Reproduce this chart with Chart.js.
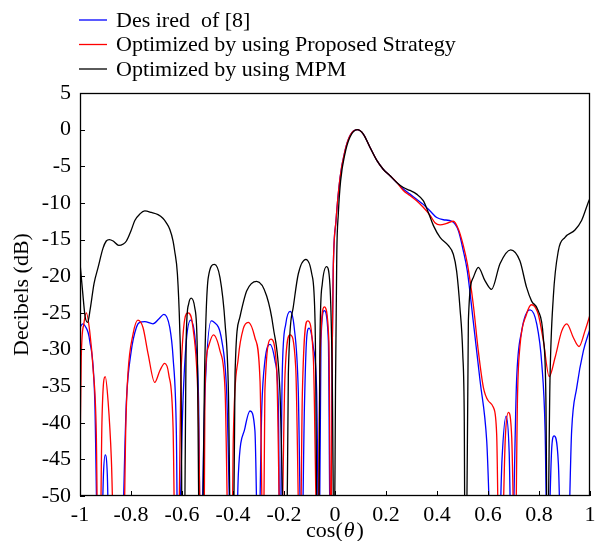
<!DOCTYPE html>
<html lang="en">
<head>
    <meta charset="UTF-8">
    <title>Array pattern</title>
    <script src="https://cdn.jsdelivr.net/npm/chart.js"></script>
    <style>
        body { margin: 0; background: #fff; }
        #patternChart { display: block; }
    </style>
</head>
<body>
    <canvas id="patternChart" width="595" height="541"></canvas>

    <script>
    // legend labels
    const seriesNames = ['Des ired  of [8]', 'Optimized by using Proposed Strategy', 'Optimized by using MPM'];

    // Desired of [8] (blue)
    const desX = [-1, -0.99, -0.98, -0.962, -0.942, -0.929, -0.918, -0.908, -0.901, -0.893, -0.884, -0.84, -0.818, -0.799, -0.779, -0.766, -0.746, -0.714, -0.69, -0.671, -0.648, -0.635, -0.622, -0.616, -0.596, -0.583, -0.566, -0.548, -0.535, -0.527, -0.511, -0.485, -0.477, -0.444, -0.425, -0.405, -0.39, -0.379, -0.353, -0.333, -0.314, -0.301, -0.287, -0.275, -0.255, -0.235, -0.222, -0.216, -0.207, -0.193, -0.176, -0.16, -0.144, -0.131, -0.12, -0.111, -0.102, -0.085, -0.072, -0.062, -0.055, -0.042, -0.026, -0.018, -0.011, -0.007, 0.004, 0.02, 0.039, 0.059, 0.087, 0.111, 0.137, 0.164, 0.189, 0.216, 0.242, 0.268, 0.294, 0.32, 0.346, 0.373, 0.399, 0.425, 0.458, 0.484, 0.503, 0.519, 0.542, 0.569, 0.595, 0.617, 0.64, 0.655, 0.671, 0.683, 0.693, 0.712, 0.732, 0.765, 0.791, 0.811, 0.824, 0.833, 0.85, 0.859, 0.876, 0.889, 0.911, 0.928, 0.948, 0.974, 1];
    const desDb = [-27.0, -26.5, -26.8, -28.8, -37.0, -60, -60, -47, -44.4, -47, -60, -60, -37.0, -30.2, -27.0, -26.3, -26.2, -26.5, -25.8, -25.2, -27.0, -31.1, -41.6, -60, -37, -28.8, -26.0, -28.8, -37, -60, -37, -26.1, -26.2, -28.8, -35.7, -60, -60, -47, -40.7, -38.4, -41.1, -60, -37.9, -31.6, -29.3, -31.6, -37.9, -60, -33.4, -26.5, -24.8, -27.0, -35.7, -60, -38, -28.4, -27.1, -29.7, -35.7, -60, -28.8, -24.7, -28.8, -60, -30.6, -19.3, -12.4, -6.5, -2.9, -0.8, 0, -0.6, -2.4, -4.2, -5.4, -6.3, -7.2, -8.1, -8.8, -9.5, -10.2, -11.1, -12.0, -12.3, -12.5, -13.8, -16.5, -19.3, -26.1, -34.3, -42.5, -60, -60, -45, -39.1, -44, -60, -34.3, -27.5, -24.6, -26.5, -32.0, -41.1, -60, -43.4, -41.8, -45.6, -60, -60, -41.1, -35.2, -30.2, -27.2];

    // Proposed strategy (red)
    const propX = [-1, -0.995, -0.985, -0.975, -0.962, -0.949, -0.936, -0.929, -0.922, -0.914, -0.901, -0.89, -0.877, -0.864, -0.831, -0.82, -0.812, -0.792, -0.773, -0.753, -0.733, -0.707, -0.687, -0.668, -0.652, -0.635, -0.626, -0.616, -0.603, -0.576, -0.557, -0.537, -0.524, -0.514, -0.51, -0.497, -0.477, -0.451, -0.431, -0.416, -0.405, -0.399, -0.379, -0.36, -0.34, -0.314, -0.294, -0.281, -0.275, -0.251, -0.229, -0.212, -0.196, -0.176, -0.154, -0.137, -0.128, -0.107, -0.085, -0.068, -0.059, -0.042, -0.024, -0.016, -0.011, -0.007, 0.004, 0.02, 0.039, 0.059, 0.087, 0.111, 0.137, 0.164, 0.189, 0.216, 0.242, 0.268, 0.294, 0.32, 0.346, 0.373, 0.392, 0.412, 0.438, 0.464, 0.484, 0.503, 0.519, 0.542, 0.562, 0.582, 0.601, 0.621, 0.634, 0.644, 0.652, 0.668, 0.68, 0.693, 0.706, 0.716, 0.725, 0.751, 0.771, 0.797, 0.817, 0.84, 0.863, 0.889, 0.909, 0.935, 0.957, 0.98, 1];
    const propDb = [-45, -31, -26.5, -25, -27.5, -32.5, -41.6, -60, -60, -40, -33.7, -37, -45, -60, -60, -40, -33.3, -27.9, -26.0, -27.0, -30.6, -34.5, -32.9, -31.9, -33.4, -40.7, -60, -60, -32.5, -25.0, -27.0, -37.0, -60, -60, -35.7, -29.7, -28.0, -30.2, -35.7, -60, -60, -42.5, -31.1, -27.2, -26.3, -28.4, -34.3, -60, -35.7, -28.6, -32.5, -60, -33.4, -28.0, -32.5, -60, -36, -26.1, -31.1, -60, -32, -24.2, -28.8, -60, -30.6, -19.3, -12.4, -6.5, -2.9, -0.8, 0, -0.6, -2.4, -4.2, -5.4, -6.3, -7.2, -8.3, -9.0, -9.7, -10.6, -11.7, -12.7, -13.0, -12.8, -12.5, -13.6, -15.8, -18.3, -23.8, -30.2, -35.2, -37.0, -37.9, -41.6, -60, -60, -42, -38.6, -42, -60, -36, -29.7, -25.2, -23.9, -25.2, -28.8, -33.7, -31.1, -27.5, -26.5, -28.4, -29.6, -27.5, -25.3];

    // MPM (black)
    const mpmX = [-1, -0.99, -0.98, -0.97, -0.96, -0.945, -0.929, -0.91, -0.897, -0.885, -0.87, -0.848, -0.83, -0.818, -0.8, -0.785, -0.765, -0.746, -0.72, -0.694, -0.675, -0.662, -0.648, -0.635, -0.629, -0.618, -0.609, -0.603, -0.599, -0.592, -0.583, -0.574, -0.564, -0.55, -0.54, -0.531, -0.522, -0.511, -0.497, -0.473, -0.451, -0.431, -0.418, -0.408, -0.399, -0.392, -0.373, -0.346, -0.307, -0.268, -0.242, -0.216, -0.196, -0.19, -0.183, -0.164, -0.144, -0.114, -0.091, -0.078, -0.068, -0.064, -0.059, -0.05, -0.033, -0.02, -0.011, -0.003, 0.002, 0.007, 0.013, 0.022, 0.039, 0.059, 0.087, 0.111, 0.137, 0.164, 0.189, 0.216, 0.242, 0.268, 0.294, 0.32, 0.346, 0.366, 0.386, 0.412, 0.444, 0.464, 0.477, 0.49, 0.501, 0.507, 0.51, 0.515, 0.523, 0.542, 0.562, 0.588, 0.614, 0.647, 0.689, 0.725, 0.751, 0.771, 0.797, 0.817, 0.827, 0.833, 0.843, 0.856, 0.876, 0.902, 0.941, 0.967, 0.997, 1];
    const mpmDb = [-18.2, -22.0, -25.5, -26.3, -24.5, -21.0, -18.8, -16.2, -15.2, -15.0, -15.2, -15.8, -15.6, -15.2, -13.8, -12.4, -11.5, -11.1, -11.3, -11.6, -12.1, -12.7, -13.6, -15.2, -16.5, -19.7, -27.0, -37.0, -60, -60, -27.9, -23.8, -23.0, -24.3, -30.2, -60, -60, -32.5, -20.2, -18.4, -20.2, -26.5, -35.7, -60, -60, -33.4, -25.6, -22.0, -20.7, -22.7, -27.0, -35.7, -60, -60, -33.4, -24.3, -19.7, -17.7, -19.7, -26.5, -60, -60, -28.8, -21.1, -18.7, -21.1, -33.3, -60, -35, -17.0, -11.5, -7.0, -3.3, -1.0, 0, -0.6, -2.4, -4.2, -5.4, -6.3, -7.2, -7.9, -8.3, -8.8, -9.7, -11.3, -13.1, -14.7, -15.8, -17.0, -19.3, -24.3, -30.6, -39.8, -60, -60, -26.1, -20.2, -18.8, -20.6, -21.8, -18.3, -16.4, -17.9, -21.5, -23.4, -24.7, -28.4, -36.6, -60, -34.3, -22.9, -16.5, -14.7, -13.7, -12.4, -9.6, -9.4];

    const serif = "'Liberation Serif', 'Times New Roman', serif";

    function toPoints(xs, ys) {
        return xs.map((v, i) => ({ x: v, y: ys[i] }));
    }

    // box, inward ticks, x title with italic theta, legend block at the top
    const framePlugin = {
        id: 'frame',
        afterDatasetsDraw(chart) {
            const { ctx, chartArea: a, scales } = chart;
            ctx.save();
            ctx.strokeStyle = '#000';
            ctx.lineWidth = 1.3;
            ctx.strokeRect(a.left + 0.5, a.top + 0.5, a.right - a.left - 1, a.bottom - a.top - 1);
            ctx.lineWidth = 1;
            ctx.beginPath();
            scales.y.ticks.forEach(t => {
                const py = Math.round(scales.y.getPixelForValue(t.value)) + 0.5;
                ctx.moveTo(a.left, py);
                ctx.lineTo(a.left + 5, py);
            });
            scales.x.ticks.forEach(t => {
                const px = Math.round(scales.x.getPixelForValue(t.value)) + 0.5;
                ctx.moveTo(px, a.bottom);
                ctx.lineTo(px, a.bottom - 5);
            });
            ctx.stroke();
            ctx.restore();
        },
        afterDraw(chart) {
            const ctx = chart.ctx;
            const a = chart.chartArea;
            ctx.save();
            ctx.fillStyle = '#000';
            ctx.textBaseline = 'middle';

            // x axis title: cos(θ) with italic theta
            const parts = [['cos(', ''], ['θ', 'italic '], [')', '']];
            let total = 0;
            parts.forEach(p => { ctx.font = p[1] + '22px ' + serif; total += ctx.measureText(p[0]).width + (p[1] ? 3 : 0); });
            let tx = (a.left + a.right) / 2 - total / 2;
            parts.forEach(p => {
                ctx.font = p[1] + '22px ' + serif;
                if (p[1]) tx += 1;
                ctx.fillText(p[0], tx, 531);
                tx += ctx.measureText(p[0]).width + (p[1] ? 2 : 0);
            });

            // legend
            ctx.font = '22px ' + serif;
            chart.data.datasets.forEach((ds, i) => {
                const y = 20 + i * 24.5;
                ctx.strokeStyle = ds.borderColor;
                ctx.lineWidth = 1.3;
                ctx.beginPath();
                ctx.moveTo(79, y);
                ctx.lineTo(107, y);
                ctx.stroke();
                ctx.fillText(ds.label, 116, y + 1);
            });
            ctx.restore();
        }
    };

    new Chart(document.getElementById('patternChart'), {
        type: 'line',
        data: {
            datasets: [
                { label: seriesNames[0], data: toPoints(desX, desDb), borderColor: '#0000ff', order: 2 },
                { label: seriesNames[1], data: toPoints(propX, propDb), borderColor: '#ff0000', order: 1 },
                { label: seriesNames[2], data: toPoints(mpmX, mpmDb), borderColor: '#000000', order: 0 }
            ]
        },
        options: {
            responsive: false,
            animation: false,
            layout: { padding: { top: 93, right: 5, left: 0, bottom: 0 } },
            elements: {
                line: { borderWidth: 1.3, cubicInterpolationMode: 'monotone', fill: false },
                point: { radius: 0 }
            },
            plugins: {
                legend: { display: false },
                tooltip: { enabled: false }
            },
            scales: {
                x: {
                    type: 'linear',
                    min: -1,
                    max: 1,
                    afterFit: s => { s.height = 45; s.paddingLeft = 0; s.paddingRight = 0; },
                    grid: { display: false, drawTicks: false },
                    border: { display: false },
                    ticks: {
                        stepSize: 0.2,
                        padding: 6,
                        color: '#000',
                        font: { family: serif, size: 22 },
                        maxRotation: 0,
                        callback: v => String(+v.toFixed(1))
                    }
                },
                y: {
                    min: -50,
                    max: 5,
                    afterFit: s => { s.width = 80; s.paddingTop = 0; s.paddingBottom = 0; },
                    grid: { display: false, drawTicks: false },
                    border: { display: false },
                    ticks: {
                        stepSize: 5,
                        padding: 9,
                        color: '#000',
                        font: { family: serif, size: 22 },
                        callback: v => String(v)
                    },
                    title: {
                        display: true,
                        text: 'Decibels (dB)',
                        color: '#000',
                        font: { family: serif, size: 22 },
                        padding: { top: 9, bottom: 0 }
                    }
                }
            }
        },
        plugins: [framePlugin]
    });
    </script>
</body>
</html>
